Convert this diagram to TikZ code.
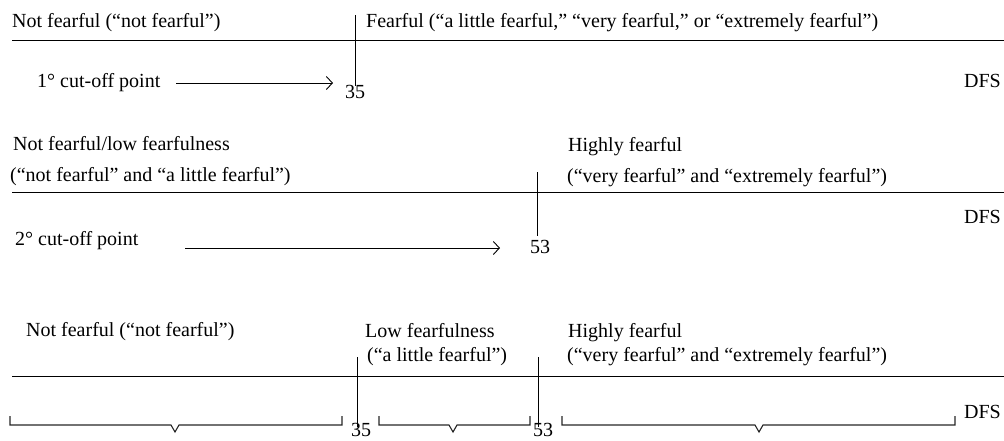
\documentclass[tikz,border=0pt]{standalone}
\usepackage{fontspec}
\setmainfont{Liberation Serif}
\usetikzlibrary{arrows.meta}
\begin{document}
\begin{tikzpicture}[x=1pt,y=-1pt,
  lbl/.style={inner sep=0pt,anchor=base west,font=\fontsize{20}{24}\selectfont},
  lble/.style={lbl,anchor=base east},
  axis/.style={line width=1pt},
  tick/.style={line width=1pt},
  arr/.style={line width=0.9pt,-{Straight Barb[length=6pt,width=13pt,line width=0.9pt]}},
  brace/.style={line width=1.1pt,black!85}]
\useasboundingbox (0,0) rectangle (1004,440);
% ---------- panel 1 ----------
\node[lbl] (p1a) at (12,27) {Not fearful (“not fearful”)};
\node[lbl] (p1b) at (366,27) {Fearful (“a little fearful,” “very fearful,” or “extremely fearful”)};
\coordinate (l1s) at (12,40); \coordinate (l1e) at (1004,40);
\draw[axis] (l1s) -- (l1e);
\coordinate (t1a) at (355,15); \coordinate (t1b) at (355,86);
\draw[tick] (t1a) -- (t1b);
\node[lbl] (c1) at (37,87) {1° cut-off point};
\node[lbl] (n1) at (345,98) {35};
\coordinate (a1s) at (176,83); \coordinate (a1e) at (333,83);
\draw[arr] (a1s) -- (a1e);
\node[lble] (d1) at (1001,87) {DFS};
% ---------- panel 2 ----------
\node[lbl] (p2a) at (13,150) {Not fearful/low fearfulness};
\node[lbl] (p2b) at (10,181) {(“not fearful” and “a little fearful”)};
\node[lbl] (p2c) at (568,151) {Highly fearful};
\node[lbl] (p2d) at (567,182) {(“very fearful” and “extremely fearful”)};
\coordinate (l2s) at (12,192); \coordinate (l2e) at (1004,192);
\draw[axis] (l2s) -- (l2e);
\coordinate (t2a) at (537,172); \coordinate (t2b) at (537,236);
\draw[tick] (t2a) -- (t2b);
\node[lbl] (c2) at (15,245) {2° cut-off point};
\node[lbl] (n2) at (530,253) {53};
\coordinate (a2s) at (185,248); \coordinate (a2e) at (500,248);
\draw[arr] (a2s) -- (a2e);
\node[lble] (d2) at (1001,223) {DFS};
% ---------- panel 3 ----------
\node[lbl] (p3a) at (26,336) {Not fearful (“not fearful”)};
\node[lbl] (p3b) at (365,337) {Low fearfulness};
\node[lbl] (p3c) at (367,361) {(“a little fearful”)};
\node[lbl] (p3d) at (568,337) {Highly fearful};
\node[lbl] (p3e) at (567,361) {(“very fearful” and “extremely fearful”)};
\coordinate (l3s) at (12,376); \coordinate (l3e) at (1004,376);
\draw[axis] (l3s) -- (l3e);
\coordinate (t3a) at (357,357); \coordinate (t3b) at (357,427);
\draw[tick] (t3a) -- (t3b);
\coordinate (t4a) at (538,357); \coordinate (t4b) at (538,427);
\draw[tick] (t4a) -- (t4b);
\node[lbl] (n3) at (351,436) {35};
\node[lbl] (n4) at (533,436) {53};
\node[lble] (d3) at (1001,418) {DFS};
% braces
\draw[brace] (10,416) -- (10,425) -- (171,425) -- (175,432) -- (179,425) -- (342,425) -- (342,416);
\draw[brace] (379,416) -- (379,425) -- (449,425) -- (453,432) -- (457,425) -- (530,425) -- (530,416);
\draw[brace] (562,416) -- (562,425) -- (755,425) -- (759,432) -- (763,425) -- (955,425) -- (955,416);
\end{tikzpicture}
\end{document}
